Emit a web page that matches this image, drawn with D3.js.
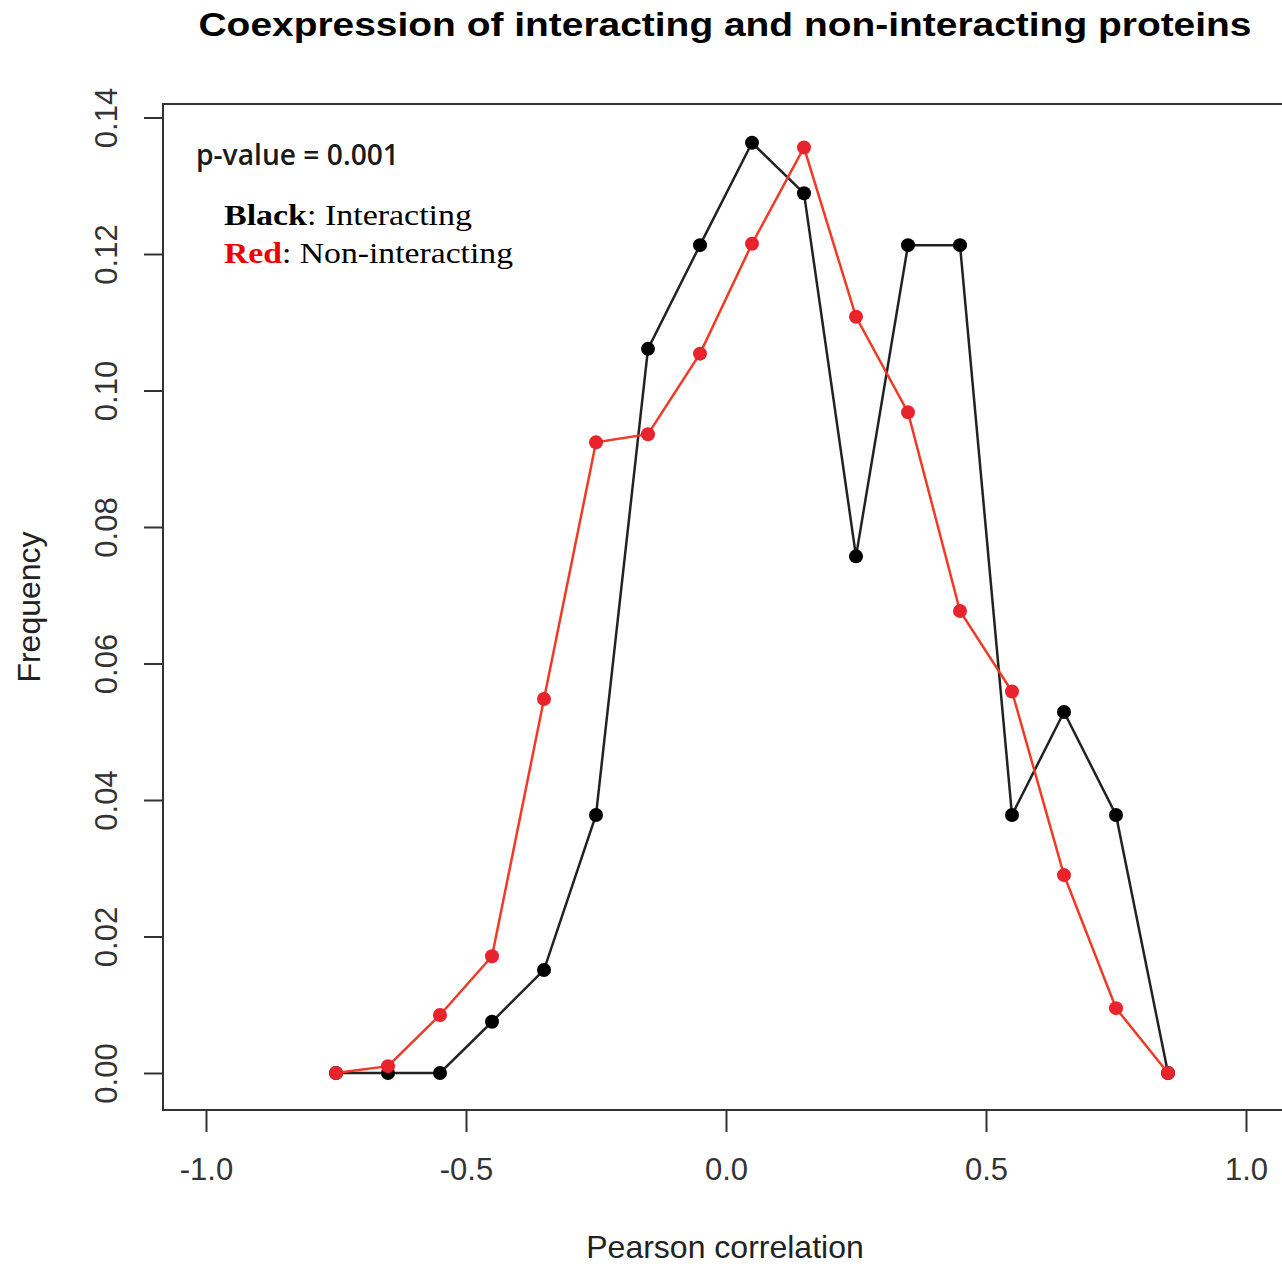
<!DOCTYPE html>
<html>
<head>
<meta charset="utf-8">
<script src="https://cdn.jsdelivr.net/npm/d3@7"></script>
<style>
  body { margin: 0; background: #fff; }
  svg { display: block; }
</style>
</head>
<body>
<div id="chart-div"></div>
<script>
// bin centres of the Pearson correlation histogram
const binCentres = [-0.75, -0.65, -0.55, -0.45, -0.35, -0.25, -0.15, -0.05, 0.05, 0.15, 0.25, 0.35, 0.45, 0.55, 0.65, 0.75, 0.85];
const interacting = [0, 0, 0, 0.0075, 0.0151, 0.0378, 0.1061, 0.1213, 0.1363, 0.1289, 0.0757, 0.1213, 0.1213, 0.0378, 0.0529, 0.0378, 0];
const nonInteracting = [0, 0.0010, 0.0085, 0.0171, 0.0548, 0.0924, 0.0936, 0.1054, 0.1215, 0.1356, 0.1108, 0.0968, 0.0677, 0.0559, 0.0290, 0.0095, 0];
const xTicks = [-1.0, -0.5, 0.0, 0.5, 1.0];
const yTicks = [0, 0.02, 0.04, 0.06, 0.08, 0.10, 0.12, 0.14];

const WIDTH = 1282;
const HEIGHT = 1266;
const BOX = { left: 163, top: 104, right: 1292, bottom: 1110 };

const svg = d3.select("#chart-div")
    .append("svg")
    .attr("width", WIDTH)
    .attr("height", HEIGHT);

let xScale = d3.scaleLinear().domain([-1, 1]).range([206, 1246]);
let yScale = d3.scaleLinear().domain([0, 0.14]).range([1073, 117.5]);

// plot frame
svg.append("rect")
    .attr("x", BOX.left)
    .attr("y", BOX.top)
    .attr("width", BOX.right - BOX.left)
    .attr("height", BOX.bottom - BOX.top)
    .attr("fill", "none")
    .attr("stroke", "#333")
    .attr("stroke-width", 2);

// x axis (R style: ticks below the frame)
let xAxis = svg.append("g")
    .attr("transform", "translate(0," + BOX.bottom + ")")
    .call(d3.axisBottom(xScale).tickValues(xTicks).tickSize(22).tickPadding(26).tickFormat(d3.format(".1f")));
xAxis.select(".domain").remove();
xAxis.selectAll("line").attr("stroke", "#333").attr("stroke-width", 2);
xAxis.selectAll("text")
    .attr("fill", "#333")
    .style("font-family", "'Liberation Sans', Arial, sans-serif")
    .style("font-size", "31px")
    .text(d => d3.format(".1f")(d).replace("−", "-"));

// y axis with rotated labels
let yAxis = svg.append("g")
    .attr("transform", "translate(" + BOX.left + ",0)")
    .call(d3.axisLeft(yScale).tickValues(yTicks).tickSize(19).tickFormat(d3.format(".2f")));
yAxis.select(".domain").remove();
yAxis.selectAll("line").attr("stroke", "#333").attr("stroke-width", 2);
yAxis.selectAll("text")
    .attr("fill", "#333")
    .attr("x", null)
    .attr("dy", null)
    .attr("text-anchor", "middle")
    .attr("transform", "translate(-46,0)rotate(-90)")
    .style("font-family", "'Liberation Sans', Arial, sans-serif")
    .style("font-size", "31px");

// series
let line = d3.line()
    .x((d, i) => xScale(binCentres[i]))
    .y(d => yScale(d));

function drawSeries(values, lineColor, dotColor) {
    svg.append("path")
        .datum(values)
        .attr("d", line)
        .attr("fill", "none")
        .attr("stroke", lineColor)
        .attr("stroke-width", 2.5);
    svg.append("g")
        .selectAll("circle")
        .data(values)
        .enter()
        .append("circle")
        .attr("cx", (d, i) => xScale(binCentres[i]))
        .attr("cy", d => yScale(d))
        .attr("r", 7)
        .attr("fill", dotColor);
}
drawSeries(interacting, "#222", "#000");
drawSeries(nonInteracting, "#f03a26", "#e8232b");

// title
svg.append("text")
    .attr("x", 725)
    .attr("y", 36)
    .attr("text-anchor", "middle")
    .attr("textLength", 1053)
    .attr("lengthAdjust", "spacingAndGlyphs")
    .style("font-family", "'Liberation Sans', Arial, sans-serif")
    .style("font-weight", "bold")
    .style("font-size", "34px")
    .attr("fill", "#000")
    .text("Coexpression of interacting and non-interacting proteins");

// axis titles
svg.append("text")
    .attr("x", 725)
    .attr("y", 1258)
    .attr("text-anchor", "middle")
    .style("font-family", "'Liberation Sans', Arial, sans-serif")
    .style("font-size", "32px")
    .attr("fill", "#222")
    .text("Pearson correlation");

svg.append("text")
    .attr("transform", "translate(40,607)rotate(-90)")
    .attr("text-anchor", "middle")
    .style("font-family", "'Liberation Sans', Arial, sans-serif")
    .style("font-size", "32px")
    .attr("fill", "#222")
    .text("Frequency");

// annotation
svg.append("text")
    .attr("x", 196)
    .attr("y", 165)
    .attr("textLength", 203)
    .attr("lengthAdjust", "spacingAndGlyphs")
    .style("font-family", "'Open Sans', 'Noto Sans', sans-serif")
    .style("font-size", "29px")
    .style("font-weight", "600")
    .attr("fill", "#1a1a1a")
    .text("p-value = 0.001");

let legendRows = [
    { key: "Black", rest: ": Interacting", color: "#000", y: 225, width: 248 },
    { key: "Red", rest: ": Non-interacting", color: "#ee0000", y: 263, width: 289 }
];
legendRows.forEach(row => {
    let t = svg.append("text")
        .attr("x", 224)
        .attr("y", row.y)
        .attr("textLength", row.width)
        .attr("lengthAdjust", "spacingAndGlyphs")
        .style("font-family", "'Liberation Serif', 'DejaVu Serif', serif")
        .style("font-size", "30px")
        .attr("fill", "#000");
    t.append("tspan")
        .style("font-weight", "bold")
        .attr("fill", row.color)
        .text(row.key);
    t.append("tspan").text(row.rest);
});
</script>
</body>
</html>
